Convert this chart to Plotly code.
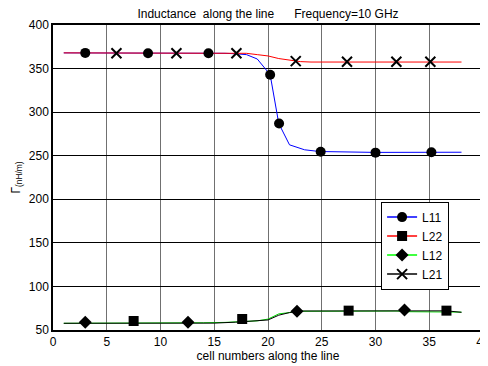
import plotly.graph_objects as go

# ---- data ----
# L11 (blue line, circles)
l11_x = [1, 3, 9, 14.5, 16, 17, 18, 19, 20.2, 21, 22, 23.4, 24.8, 30, 35.2, 38]
l11_y = [368, 368, 367.5, 367.5, 367.5, 367, 366, 361, 343, 287, 262.5, 256.8, 254.8, 253.8, 254.2, 254]
l11_mx = [3.0, 8.84, 14.46, 20.2, 21.03, 24.9, 30.0, 35.2]
l11_my = [368, 367.5, 367.5, 343, 287, 254.5, 253.5, 254]

# L21 (red line, x markers)
l21_x = [1, 17, 18, 19, 20, 21, 22, 23, 24, 38]
l21_y = [368, 368, 367.5, 366, 364.5, 361.5, 359.5, 358, 357.5, 357.5]
l21_mx = [5.9, 11.48, 17.06, 22.58, 27.35, 31.94, 35.1]
l21_my = [367.5, 367.5, 367.5, 358.5, 357.8, 357.8, 357.8]

# L12 (green line, diamonds)
l12_x = [1, 13, 14, 16, 18, 19, 20, 20.6, 21, 22, 22.7, 32, 33, 38]
l12_y = [57.7, 57.7, 58.3, 58.7, 59.5, 60.5, 62.5, 66, 68.5, 70, 71.5, 71.8, 71.0, 70.5]
l12_mx = [3.0, 12.56, 22.7, 32.7]
l12_my = [58.8, 59.0, 71.5, 73.0]

# L22 (black line, squares)
l22_x = [1, 15, 17, 18, 19, 20, 21, 22, 23, 36.6, 38]
l22_y = [57.7, 57.9, 59, 60, 60.5, 61.5, 67, 70, 71.8, 72, 70.3]
l22_mx = [7.5, 17.6, 27.5, 36.6]
l22_my = [60.3, 62.6, 72.2, 72.2]

legend_names = ["L11", "L22", "L12", "L21"]
legend_colors = ["#0000ff", "#ff0000", "#00ff00", "#000000"]
legend_symbols = ["circle", "square", "diamond", "x-thin"]

x_ticks = [0, 5, 10, 15, 20, 25, 30, 35, 40]
y_ticks = [50, 100, 150, 200, 250, 300, 350, 400]

fig = go.Figure()

def line(x, y, color):
    fig.add_trace(go.Scatter(x=x, y=y, mode="lines", line=dict(color=color, width=1),
                             showlegend=False, hoverinfo="skip"))

def marks(x, y, symbol, size):
    lw = 2 if symbol == "x-thin" else 0
    fig.add_trace(go.Scatter(x=x, y=y, mode="markers", showlegend=False,
                             marker=dict(symbol=symbol, size=size, color="black",
                                         line=dict(color="black", width=lw))))

line(l11_x, l11_y, "#0000ff")
line(l21_x, l21_y, "#ff0000")
line(l12_x, l12_y, "#00dd00")
line(l22_x, l22_y, "#000000")
marks(l11_mx, l11_my, "circle", 10)
marks(l21_mx, l21_my, "x-thin", 10)
marks(l12_mx, l12_my, "diamond", 10)
marks(l22_mx, l22_my, "square", 10)

for n, c, s in zip(legend_names, legend_colors, legend_symbols):
    lw = 2 if s == "x-thin" else 0
    fig.add_trace(go.Scatter(x=[None], y=[None], mode="lines+markers", name=n,
                             line=dict(color=c, width=1.5),
                             marker=dict(symbol=s, size=10, color="black",
                                         line=dict(color="black", width=lw))))

# page body has an 8px margin, so the figure is 480x358 and offset by 8px
W, H = 480, 358
fig.update_layout(
    width=W, height=H,
    margin=dict(l=45, r=5, t=17, b=36, autoexpand=False),
    paper_bgcolor="white", plot_bgcolor="white",
    font=dict(family="Liberation Sans, Arial, sans-serif", size=12, color="black"),
    title=dict(text="Inductance  along the line      Frequency=10 GHz",
               x=0.5, xref="paper", xanchor="center",
               y=1 - 6 / H, yref="container", yanchor="middle",
               font=dict(size=12)),
    legend=dict(x=0.763, y=0.421, xanchor="left", yanchor="top",
                bgcolor="white", bordercolor="black", borderwidth=1,
                font=dict(size=12), tracegroupgap=0, itemwidth=30),
    showlegend=True,
)
fig.update_xaxes(range=[0, 40], tickvals=x_ticks, ticks="", showgrid=True,
                 gridcolor="#707070", gridwidth=1.3, zeroline=False, automargin=False,
                 showline=True, linecolor="black", linewidth=1.5, mirror=True,
                 ticklabeloverflow="allow",
                 title=dict(text="cell numbers along the line", standoff=2, font=dict(size=12)),
                 tickfont=dict(size=12))
fig.update_yaxes(range=[50, 400], tickvals=y_ticks, ticks="", showgrid=True,
                 gridcolor="black", gridwidth=1, zeroline=False, automargin=False,
                 showline=True, linecolor="black", linewidth=1.5, mirror=True,
                 title=dict(text="Γ<sub>(nH/m)</sub>", standoff=6, font=dict(size=12)),
                 tickfont=dict(size=12))

fig.write_html("out.html")
